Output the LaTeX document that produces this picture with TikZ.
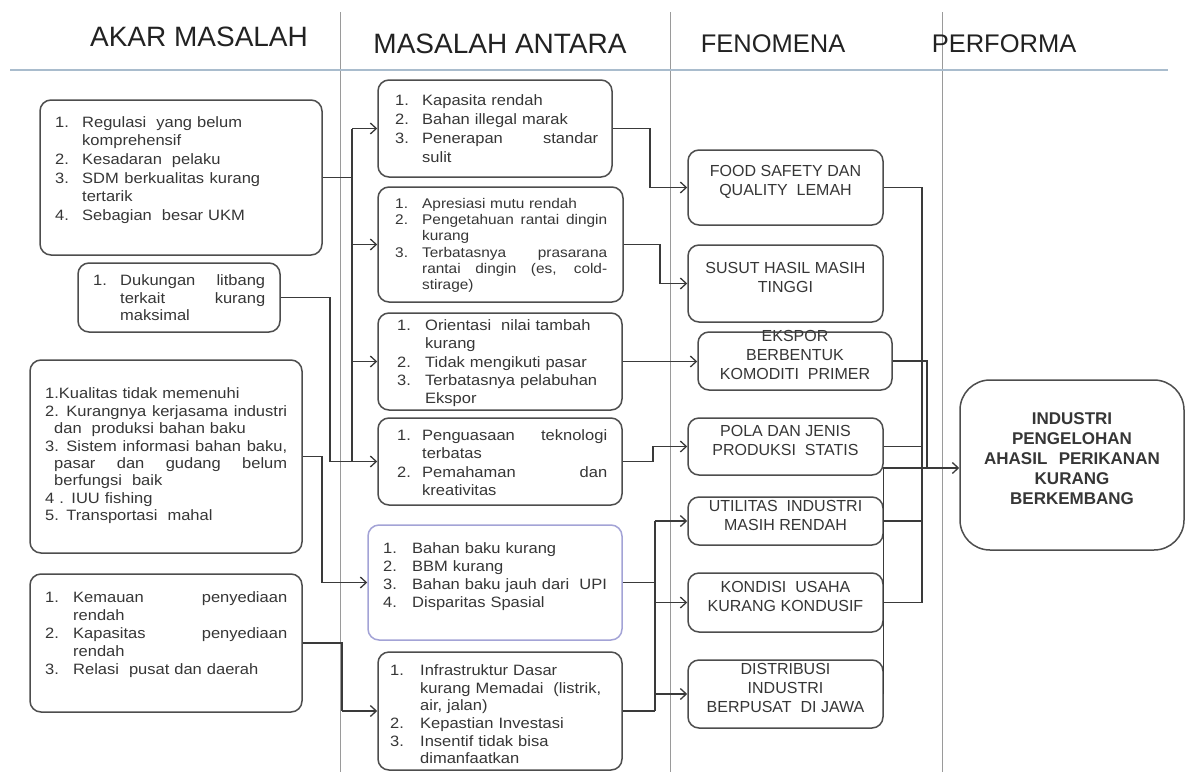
\documentclass[tikz,border=0pt]{standalone}
\usepackage{fontspec}
\setmainfont{Liberation Sans}
\newfontfamily\boxfont{Liberation Sans}[FakeStretch=1.1]
\usetikzlibrary{fit,arrows.meta}

\definecolor{bordc}{HTML}{4D4D4D}
\definecolor{linec}{HTML}{3A3A3A}
\definecolor{txtc}{HTML}{363636}
\definecolor{hdrc}{HTML}{222222}
\definecolor{sepc}{HTML}{9A9A9A}
\definecolor{rulec}{HTML}{A9BCCD}
\definecolor{purpc}{HTML}{A3A3D6}

% list lines: fixed-width rows with a number column
\newlength\lw
\newlength\numw
\newcommand\LW[2]{\setlength\lw{#1}\setlength\numw{#2}}
% ragged row
\newcommand\rl[2]{\hbox to \lw{\rule{0pt}{11pt}\makebox[\numw][l]{#1}#2\hfill}}
% justified row: plain spaces stretch to fill the row
\newcommand\jl[2]{\hbox to \lw{\spaceskip=.3em plus 1fil\relax\rule{0pt}{11pt}\makebox[\numw][l]{#1}#2}}
\newcommand\lfont[2]{\boxfont\fontsize{#1}{#2}\selectfont}

\tikzset{
  box/.style={draw=bordc, fill=white, line width=1.5pt, rounded corners=11pt, inner sep=0pt},
  lst/.style={anchor=north west, inner sep=0pt, text=txtc},
  fen/.style={box, align=center, font=\fontsize{16}{19}\selectfont, text=txtc},
  con/.style={draw=linec, line width=1.3pt},
  arr/.style={con, -{Straight Barb[length=6pt,width=11pt]}},
  hdr/.style={font=\fontsize{28}{32}\selectfont, text=hdrc, inner sep=0pt},
  sep/.style={draw=sepc, line width=1pt}
}

\begin{document}
\begin{tikzpicture}[x=1pt,y=-1pt]
\useasboundingbox (0,0) rectangle (1186,774);

% column separators and header rule
\draw[sep] (340,12) -- (340,772);
\draw[sep] (670,12) -- (670,772);
\draw[sep] (942,12) -- (942,772);
\draw[rulec, line width=2.5pt] (10,70) -- (1168,70);

% headers
\node[hdr] (h1) at (199,37) {AKAR MASALAH};
\node[hdr] (h2) at (500,44) {MASALAH ANTARA};
\node[hdr, font=\fontsize{25.5}{30}\selectfont] (h3) at (773,44) {FENOMENA};
\node[hdr, font=\fontsize{25.5}{30}\selectfont] (h4) at (1004,44) {PERFORMA};

% root causes
\node[box, fit={(40,100)(322,255)}] (l1) {};
\node[box, fit={(78,263)(280,332)}] (l2) {};
\node[box, fit={(30,360)(302,553)}] (l3) {};
\node[box, fit={(30,574)(302,712)}] (l4) {};

\node[lst, text width=205pt, font=\lfont{15}{18.6}] (l1t) at (55,116) {\LW{205pt}{27pt}%
\rl{1.}{Regulasi\ \ yang belum}
\rl{}{komprehensif}
\rl{2.}{Kesadaran\ \ pelaku}
\jl{3.}{SDM berkualitas kurang}
\rl{}{tertarik}
\rl{4.}{Sebagian\ \ besar UKM}};

\node[lst, text width=172pt, font=\lfont{15}{17.5}] (l2t) at (93,274.4) {\LW{172pt}{27pt}%
\jl{1.}{Dukungan litbang}
\jl{}{terkait kurang}
\rl{}{maksimal}};

\node[lst, text width=242pt, font=\lfont{15}{17.4}] (l3t) at (45,387.7) {\LW{242pt}{0pt}%
\rl{}{1.Kualitas tidak memenuhi}
\jl{}{2. Kurangnya kerjasama industri}
\rl{}{\hspace{9pt}dan\ \ produksi bahan baku}
\jl{}{3. Sistem informasi bahan baku,}
\jl{}{\hspace{9pt}pasar dan gudang belum}
\rl{}{\hspace{9pt}berfungsi\ \ baik}
\rl{}{4 . IUU fishing}
\rl{}{5. Transportasi\ \ mahal}};

\node[lst, text width=242pt, font=\lfont{15}{18}] (l4t) at (45,591.4) {\LW{242pt}{28pt}%
\jl{1.}{Kemauan penyediaan}
\rl{}{rendah}
\jl{2.}{Kapasitas penyediaan}
\rl{}{rendah}
\rl{3.}{Relasi\ \ pusat dan daerah}};

% intermediate problems
\node[box, fit={(378,80)(612,177)}] (m1) {};
\node[box, fit={(378,187)(623,302)}] (m2) {};
\node[box, fit={(378,313)(622,410)}] (m3) {};
\node[box, fit={(378,418)(622,505)}] (m4) {};
\node[box, draw=purpc, fit={(368,525)(622,640)}] (m5) {};
\node[box, fit={(378,652)(622,770)}] (m6) {};

\node[lst, text width=203pt, font=\lfont{15}{19}] (m1t) at (395,94.4) {\LW{203pt}{27pt}%
\rl{1.}{Kapasita rendah}
\rl{2.}{Bahan illegal marak}
\jl{3.}{Penerapan standar}
\rl{}{sulit}};

\node[lst, text width=212pt, font=\lfont{14}{16.3}] (m2t) at (395,197) {\LW{212pt}{27pt}%
\rl{1.}{Apresiasi mutu rendah}
\jl{2.}{Pengetahuan rantai dingin}
\rl{}{kurang}
\jl{3.}{Terbatasnya prasarana}
\jl{}{rantai dingin (es, cold-}
\rl{}{stirage)}};

\node[lst, text width=205pt, font=\lfont{15}{18.3}] (m3t) at (397,319.4) {\LW{205pt}{28pt}%
\rl{1.}{Orientasi\ \ nilai tambah}
\rl{}{kurang}
\rl{2.}{Tidak mengikuti pasar}
\rl{3.}{Terbatasnya pelabuhan}
\rl{}{Ekspor}};

\node[lst, text width=210pt, font=\lfont{15}{18.3}] (m4t) at (397,429.4) {\LW{210pt}{25pt}%
\jl{1.}{Penguasaan teknologi}
\rl{}{terbatas}
\jl{2.}{Pemahaman dan}
\rl{}{kreativitas}};

\node[lst, text width=220pt, font=\lfont{15}{18}] (m5t) at (383,542.4) {\LW{220pt}{29pt}%
\rl{1.}{Bahan baku kurang}
\rl{2.}{BBM kurang}
\rl{3.}{Bahan baku jauh dari\ \ UPI}
\rl{4.}{Disparitas Spasial}};

\node[lst, text width=212pt, font=\lfont{15}{17.6}] (m6t) at (390,664.4) {\LW{212pt}{30pt}%
\rl{1.}{Infrastruktur Dasar}
\rl{}{kurang Memadai\ \ (listrik,}
\rl{}{air, jalan)}
\rl{2.}{Kepastian Investasi}
\rl{3.}{Insentif tidak bisa}
\rl{}{dimanfaatkan}};

% phenomena
\node[fen, fit={(688,150)(883,225)}] (f1) {FOOD SAFETY DAN\\QUALITY\ \ LEMAH};
\node[fen, fit={(688,245)(883,322)}] (f2) {SUSUT HASIL MASIH\\TINGGI};
\node[fen, fit={(698,332)(892,390)}] (f3) {EKSPOR\\BERBENTUK\\KOMODITI\ \ PRIMER};
\node[fen, fit={(688,418)(883,475)}] (f4) {POLA DAN JENIS\\PRODUKSI\ \ STATIS};
\node[fen, fit={(688,497)(883,545)}] (f5) {UTILITAS\ \ INDUSTRI\\MASIH RENDAH};
\node[fen, fit={(688,573)(883,632)}] (f6) {KONDISI\ \ USAHA\\KURANG KONDUSIF};
\node[fen, fit={(688,660)(883,728)}] (f7) {DISTRIBUSI\\INDUSTRI\\BERPUSAT\ \ DI JAWA};

% performance
\node[box, rounded corners=30pt, fit={(960,380)(1184,550)}, align=center,
      font=\bfseries\fontsize{17}{20}\selectfont, text=txtc] (p)
      {INDUSTRI\\PENGELOHAN\\AHASIL\ \ PERIKANAN\\KURANG\\BERKEMBANG};

% bus positions
\coordinate (bx) at (352,0);
\coordinate (lx2) at (330,0);
\coordinate (lx3) at (322,0);
\coordinate (lx4) at (342,0);
\coordinate (mx1) at (650,0);
\coordinate (mx2) at (660,0);
\coordinate (mx4) at (653,0);
\coordinate (mx5) at (655,0);
\coordinate (fx) at (922,0);
\coordinate (fx3) at (927,0);
\coordinate (main) at (883,468);

% root causes -> intermediate problems
\draw[con] (l1.east) -- (l1.east -| bx);
\draw[con] (m1.west -| bx) -- (m4.west -| bx);
\foreach \m in {m1,m2,m3,m4} \draw[arr] (\m.west -| bx) -- (\m.west);
\draw[con] (l2.east) -- (l2.east -| lx2) -- (m4.west -| lx2) -- (m4.west -| bx);
\draw[arr] (l3.east) -- (l3.east -| lx3) -- (m5.west -| lx3) -- (m5.west);
\draw[con] (l4.east) -- (l4.east -| lx4) -- (m6.west -| lx4);
\draw[arr] (m6.west -| lx4) -- (m6.west);

% intermediate problems -> phenomena
\draw[arr] (m1.east) -- (m1.east -| mx1) -- (f1.west -| mx1) -- (f1.west);
\draw[arr] (m2.east) -- (m2.east -| mx2) -- (f2.west -| mx2) -- (f2.west);
\draw[arr] (m3.east) -- (m3.east -| f3.west);
\draw[arr] (m4.east) -- (m4.east -| mx4) -- (f4.west -| mx4) -- (f4.west);
\draw[con] (m5.east) -- (m5.east -| mx5);
\draw[con] (m6.east) -- (m6.east -| mx5);
\draw[con] (f5.west -| mx5) -- (m6.east -| mx5);
\foreach \f in {f5,f6,f7} \draw[arr] (\f.west -| mx5) -- (\f.west);

% phenomena -> performance
\draw[con] (f1.east) -- (f1.east -| fx) -- (f6.east -| fx) -- (f6.east);
\draw[con] (f4.east) -- (f4.east -| fx);
\draw[con] (f5.east) -- (f5.east -| fx);
\draw[con] (f3.east) -- (f3.east -| fx3) -- (main -| fx3);
\draw[con] (f7.east) -- (f7.east |- main);
\draw[arr] (main) -- (main -| p.west);
\end{tikzpicture}
\end{document}
